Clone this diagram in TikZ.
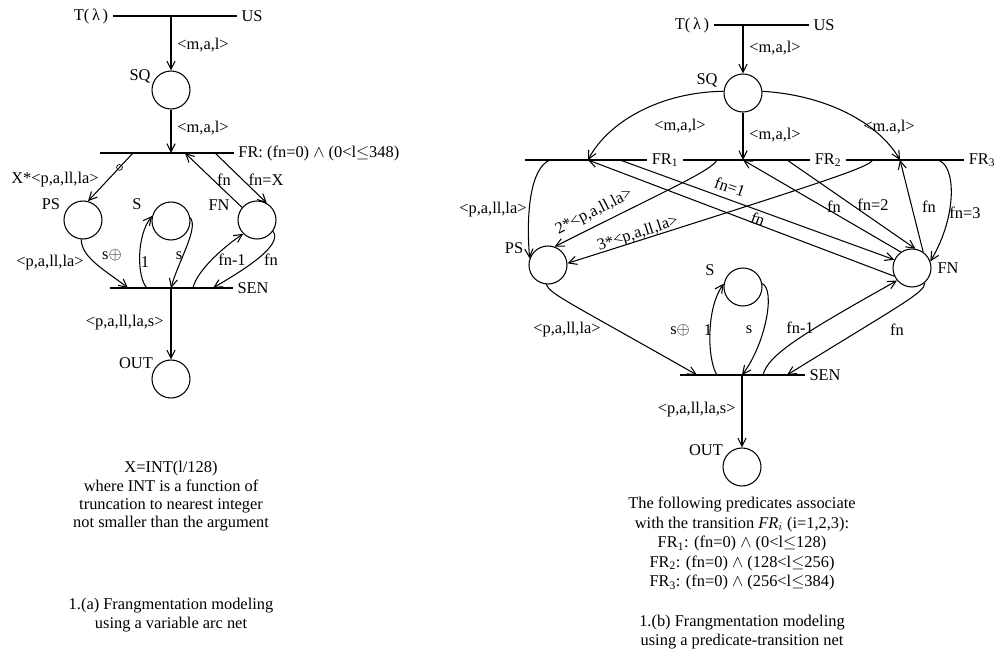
\documentclass[tikz,border=0pt]{standalone}
\usepackage{fontspec}
\setmainfont{Liberation Serif}
\usetikzlibrary{arrows.meta}

\begin{document}
\begin{tikzpicture}[x=0.03cm,y=-0.03cm,line width=0.9pt,
    >={Straight Barb[length=7pt,width=7pt]},
    every node/.style={font=\fontsize{14}{15.6}\selectfont},
    place/.style={circle,draw,minimum size=1.14cm,inner sep=0pt},
    tick/.style={circle,draw,minimum size=5pt,inner sep=0pt,line width=0.6pt}]
  \fill[white] (0,0) rectangle (997,652);
  \useasboundingbox (0,0) rectangle (997,652);

  % 1.(a) variable arc net
  \node (aT) at (91,16) {T(\,λ\,)};
  \node (aUS) at (252,16) {US};
  \draw (aT) -- (aUS);
  \coordinate (aTj) at (171,16);
  \node[place] (aSQ) at (171,90) {};
  \node at (140,76) {SQ};
  \draw[->] (aTj) -- (aSQ);
  \node[anchor=west] at (173,45) {<m,a,l>};

  \coordinate (aFRl) at (100,153);
  \coordinate (aFRj) at (171,153);
  \coordinate (aFRps) at (133,153);
  \coordinate (aFRfn) at (185,153);
  \coordinate (aFRx) at (215,153);
  \node[anchor=west] (aFR) at (234,153) {FR: (fn=0) $\wedge$ (0<l$\le$348)};
  \draw (aFRl) -- (aFR.west);
  \draw[->] (aSQ) -- (aFRj);
  \node[anchor=west] at (173,128) {<m,a,l>};

  \node[place] (aPS) at (83,220) {};
  \node at (51,204) {PS};
  \node[place] (aS) at (171,221) {};
  \node at (137,204) {S};
  \node[place] (aFN) at (257,220) {};
  \node at (219,205) {FN};
  \node[place] (aOUT) at (171,379) {};
  \node at (136,363) {OUT};

  \draw[->] (aFRps) -- node[tick,pos=0.3] {} (aPS.75);
  \node at (55,180) {X*<p,a,ll,la>};
  \draw[->] (aFN.140) -- (aFRfn);
  \node at (224,180) {fn};
  \draw[->] (aFRx) -- (aFN.60);
  \node at (266,180) {fn=X};

  \coordinate (aSENl) at (110,288);
  \coordinate (aSENps) at (128,288);
  \coordinate (aSENone) at (147,288);
  \coordinate (aSENj) at (171,288);
  \coordinate (aSENfa) at (193,288);
  \coordinate (aSENfb) at (213,288);
  \node (aSEN) at (253,288) {SEN};
  \draw (aSENl) -- (aSEN.west);
  \draw[->] (aPS.265) .. controls (81,258) and (108,272) .. (aSENps);
  \node at (50,263) {<p,a,ll,la>};
  \draw[->] (aSENone) .. controls (137,278) and (136,236) .. (aS.165);
  \draw[->] (aS.10) .. controls (199,228) and (178,262) .. (aSENj);
  \node at (112,255) {s$\oplus$};
  \node at (145,262) {1};
  \node at (179,256) {s};
  \draw[->] (aSENfa) .. controls (197,270) and (225,246) .. (aFN.225);
  \draw[->] (aFN.-35) .. controls (284,246) and (240,272) .. (aSENfb);
  \node at (232,260) {fn-1};
  \node at (271,260) {fn};
  \draw[->] (aSENj) -- (aOUT);
  \node[anchor=east] at (168,323) {<p,a,ll,la,s>};

  \node[align=center,anchor=north] at (171,457) {X=INT(l/128)\\where INT is a function of\\truncation to nearest integer\\not smaller than the argument};
  \node[align=center,anchor=north] at (171,594) {1.(a) Frangmentation modeling\\using a variable arc net};

  % 1.(b) predicate-transition net
  \node (bT) at (692,25) {T(\,λ\,)};
  \node (bUS) at (824,25) {US};
  \draw (bT) -- (bUS);
  \coordinate (bTj) at (743,25);
  \node[place] (bSQ) at (743,93) {};
  \node at (707,80) {SQ};
  \draw[->] (bTj) -- (bSQ);
  \node[anchor=west] at (745,48) {<m,a,l>};

  \coordinate (bFRl) at (525,160);
  \coordinate (bFRps) at (550,160);
  \coordinate (bJ1) at (588,160);
  \coordinate (bJ1b) at (620,160);
  \coordinate (bJ1c) at (717,160);
  \coordinate (bJ2) at (743,160);
  \coordinate (bJ2b) at (787,160);
  \coordinate (bJ2c) at (873,160);
  \coordinate (bJ3) at (900,160);
  \coordinate (bJ3b) at (937,160);
  \node (bFR1) at (665,160) {FR\textsubscript{1}};
  \node (bFR2) at (828,160) {FR\textsubscript{2}};
  \node (bFR3) at (982,160) {FR\textsubscript{3}};
  \draw (bFRl) -- (bFR1.west) (bFR1.east) -- (bFR2.west) (bFR2.east) -- (bFR3.west);

  \draw[->] (bSQ) -- (bJ2);
  \node[anchor=west] at (745,135) {<m,a,l>};
  \draw[->] (bSQ.175) .. controls (660,92) and (608,122) .. (bJ1);
  \node at (680,126) {<m,a,l>};
  \draw[->] (bSQ.5) .. controls (825,95) and (878,122) .. (bJ3);
  \node at (889,127) {<m.a,l>};

  \node[place] (bPS) at (548,265) {};
  \node at (514,248) {PS};
  \node[place] (bFN) at (912,268) {};
  \node at (948,268) {FN};
  \node[place] (bS) at (743,287) {};
  \node at (710,270) {S};
  \node[place] (bOUT) at (742,467) {};
  \node at (706,450) {OUT};

  \draw[->] (bFRps) .. controls (530,168) and (526,215) .. (bPS.160);
  \node[anchor=east] at (531,210) {<p,a,ll,la>};
  \draw[->] (bJ1b) -- (bFN.155);
  \node[rotate=-19] at (730,187) {fn=1};
  \draw[->] (bFN.205) -- (bJ1);
  \node[rotate=-20] at (758,219) {fn};
  \draw[->] (bJ1c) .. controls (711,171) and (667,190) .. (bPS.70);
  \node[rotate=27] at (594,212) {2*<p,a,ll,la>};
  \draw[->] (bJ2c) .. controls (866,168) and (840,177) .. (bPS.5);
  \node[rotate=18] at (638,234) {3*<p,a,ll,la>};
  \draw[->] (bJ2b) -- (bFN.80);
  \node at (873,205) {fn=2};
  \draw[->] (bFN.125) -- (bJ2);
  \node at (834,207) {fn};
  \draw[->] (bFN.55) -- (bJ3);
  \node at (929,207) {fn};
  \draw[->] (bJ3b) .. controls (956,163) and (958,215) .. (bFN.20);
  \node at (965,213) {fn=3};

  \coordinate (bSENl) at (680,375);
  \coordinate (bSENps) at (697,375);
  \coordinate (bSENone) at (717,375);
  \coordinate (bSENj) at (742,375);
  \coordinate (bSENfa) at (763,375);
  \coordinate (bSENfb) at (787,375);
  \node (bSEN) at (825,375) {SEN};
  \draw (bSENl) -- (bSEN.west);
  \draw[->] (bPS.265) .. controls (550,294) and (565,300) .. (bSENps);
  \node at (567,330) {<p,a,ll,la>};
  \draw[->] (bSENone) .. controls (708,362) and (705,310) .. (bS.170);
  \draw[->] (bS.10) .. controls (776,290) and (765,345) .. (bSENj);
  \node at (680,330) {s$\oplus$};
  \node at (708,330) {1};
  \node at (749,330) {s};
  \draw[->] (bSENfa) .. controls (768,355) and (800,335) .. (bFN.220);
  \node at (800,328) {fn-1};
  \draw[->] (bFN.-50) .. controls (926,292) and (900,305) .. (bSENfb);
  \node at (897,330) {fn};
  \draw[->] (bSENj) -- (bOUT);
  \node[anchor=east] at (740,410) {<p,a,ll,la,s>};

  \node[align=center,anchor=north,font=\fontsize{14}{16.6}\selectfont] at (742,493) {The following predicates associate\\with the transition \textit{FR$_i$} (i=1,2,3):\\FR\textsubscript{1}: (fn=0) $\wedge$ (0<l$\le$128)\\FR\textsubscript{2}: (fn=0) $\wedge$ (128<l$\le$256)\\FR\textsubscript{3}: (fn=0) $\wedge$ (256<l$\le$384)};
  \node[align=center,anchor=north] at (742,611) {1.(b) Frangmentation modeling\\using a predicate-transition net};
\end{tikzpicture}
\end{document}
